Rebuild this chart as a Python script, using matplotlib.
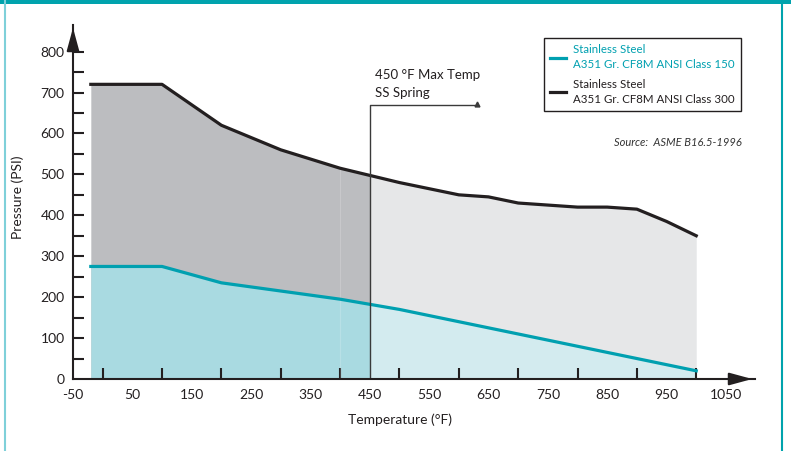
import numpy as np
import matplotlib
matplotlib.use("Agg")
import matplotlib.pyplot as plt
from matplotlib.lines import Line2D
from matplotlib.patches import Rectangle

plt.rcParams['font.family'] = ['Lato', 'DejaVu Sans']
plt.rcParams['axes.unicode_minus'] = False

# temperatures (F) and pressure ratings (psi)
temps = np.array([-20, 100, 200, 300, 400, 500, 600, 650, 700, 750, 800, 850, 900, 950, 1000])
class300 = np.array([720, 720, 620, 560, 515, 480, 450, 445, 430, 425, 420, 420, 415, 385, 350])
class150 = np.array([275, 275, 235, 215, 195, 170, 140, 125, 110, 95, 80, 65, 50, 35, 20])
spring_max = 450

xticks_major = np.arange(-50, 1051, 100)
xticks_minor = np.arange(0, 1051, 50)
yticks_major = np.arange(0, 801, 100)
yticks_minor = np.arange(50, 801, 50)

teal = '#00a0b0'
black = '#231f20'

fig = plt.figure(figsize=(7.91, 4.51), dpi=100)
ax = fig.add_axes([73/791, 72/451, 682/791, 354/451])
ax.set_xlim(-50, 1099)
ax.set_ylim(0, 865)

# split the curves at the spring limit
left = np.append(temps[temps < spring_max], spring_max)
right = np.insert(temps[temps > spring_max], 0, spring_max)
l300, r300 = np.interp(left, temps, class300), np.interp(right, temps, class300)
l150, r150 = np.interp(left, temps, class150), np.interp(right, temps, class150)

ax.fill_between(left, 0, l300, color='#bcbdc0', lw=0)
ax.fill_between(right, 0, r300, color='#e6e7e8', lw=0)
ax.fill_between(left, 0, l150, color='#a9dae1', lw=0)
ax.fill_between(right, 0, r150, color='#d3ebef', lw=0)
# faint seam at 400
ax.plot([400, 400], [0, np.interp(400, temps, class300)], color='white', alpha=0.18, lw=0.8)

ax.plot(temps, class300, color=black, lw=2.3, solid_joinstyle='round',
        label='Stainless Steel\nA351 Gr. CF8M ANSI Class 300')
ax.plot(temps, class150, color=teal, lw=2.3, solid_joinstyle='round',
        label='Stainless Steel\nA351 Gr. CF8M ANSI Class 150')

# spring max temp marker
ax.plot([spring_max, spring_max, 630], [0, 670, 670], color='#3a3a3a', lw=1)
ax.plot(630, 672, marker='^', ms=3.5, color='#3a3a3a')
ax.text(459, 743, '450 °F Max Temp', fontsize=9.5, va='center', color=black)
ax.text(459, 699, 'SS Spring', fontsize=9.5, va='center', color=black)

# axes
for s in ['top', 'right']:
    ax.spines[s].set_visible(False)
for s in ['left', 'bottom']:
    ax.spines[s].set_color(black)
    ax.spines[s].set_linewidth(1.5)
ax.set_xticks(xticks_major)
ax.set_xticks(xticks_minor, minor=True)
ax.set_yticks(yticks_major)
ax.set_yticks(yticks_minor, minor=True)
ax.tick_params(axis='x', which='major', length=0, pad=7, labelsize=10, labelcolor=black)
ax.tick_params(axis='x', which='minor', direction='in', length=8, width=1.5, color=black)
ax.tick_params(axis='y', which='major', direction='in', length=8, width=1.5, color=black,
               pad=6, labelsize=10, labelcolor=black)
ax.tick_params(axis='y', which='minor', direction='in', length=8, width=1.5, color=black)
ax.yaxis.get_major_ticks()[0].tick1line.set_visible(False)

ax.annotate('', xy=(1, 0), xycoords='axes fraction', xytext=(0.97, 0),
            arrowprops=dict(arrowstyle='-|>,head_length=1.4,head_width=0.38', color=black, lw=1.5))
ax.annotate('', xy=(0, 1), xycoords='axes fraction', xytext=(0, 0.96),
            arrowprops=dict(arrowstyle='-|>,head_length=1.4,head_width=0.38', color=black, lw=1.5))

fig.text(400/791, 1 - 420/451, 'Temperature (°F)', ha='center', va='center', fontsize=10, color=black)
fig.text(18/791, 1 - 197/451, 'Pressure (PSI)', ha='center', va='center', rotation=90,
         fontsize=10, color=black)

# legend (class 150 first)
h, lab = ax.get_legend_handles_labels()
leg = ax.legend(h[::-1], lab[::-1], loc='upper right', bbox_to_anchor=(741/791, 413/451),
                bbox_transform=fig.transFigure, fontsize=8.3, handlelength=1.4,
                fancybox=False, edgecolor=black, framealpha=1, borderaxespad=0,
                labelspacing=0.8, handletextpad=0.6, borderpad=0.55)
leg.get_frame().set_linewidth(1)
for t in leg.get_texts():
    t.set_linespacing(1.4)
leg.get_texts()[0].set_color(teal)
leg.get_texts()[1].set_color(black)

fig.text(742/791, 1 - 142/451, 'Source:  ASME B16.5-1996', ha='right', va='center',
         fontsize=8, style='italic', color='#333333')

# page frame
fig.add_artist(Rectangle((0, 1 - 4/451), 1, 4/451, transform=fig.transFigure, color='#00a3ad', lw=0))
fig.add_artist(Line2D([5/791, 5/791], [0, 1], transform=fig.transFigure, color='#7fd0d9', lw=1.5))
fig.add_artist(Line2D([782/791, 782/791], [0, 1], transform=fig.transFigure, color='#00a3ad', lw=1.5))

fig.savefig('out.png', dpi=100)
